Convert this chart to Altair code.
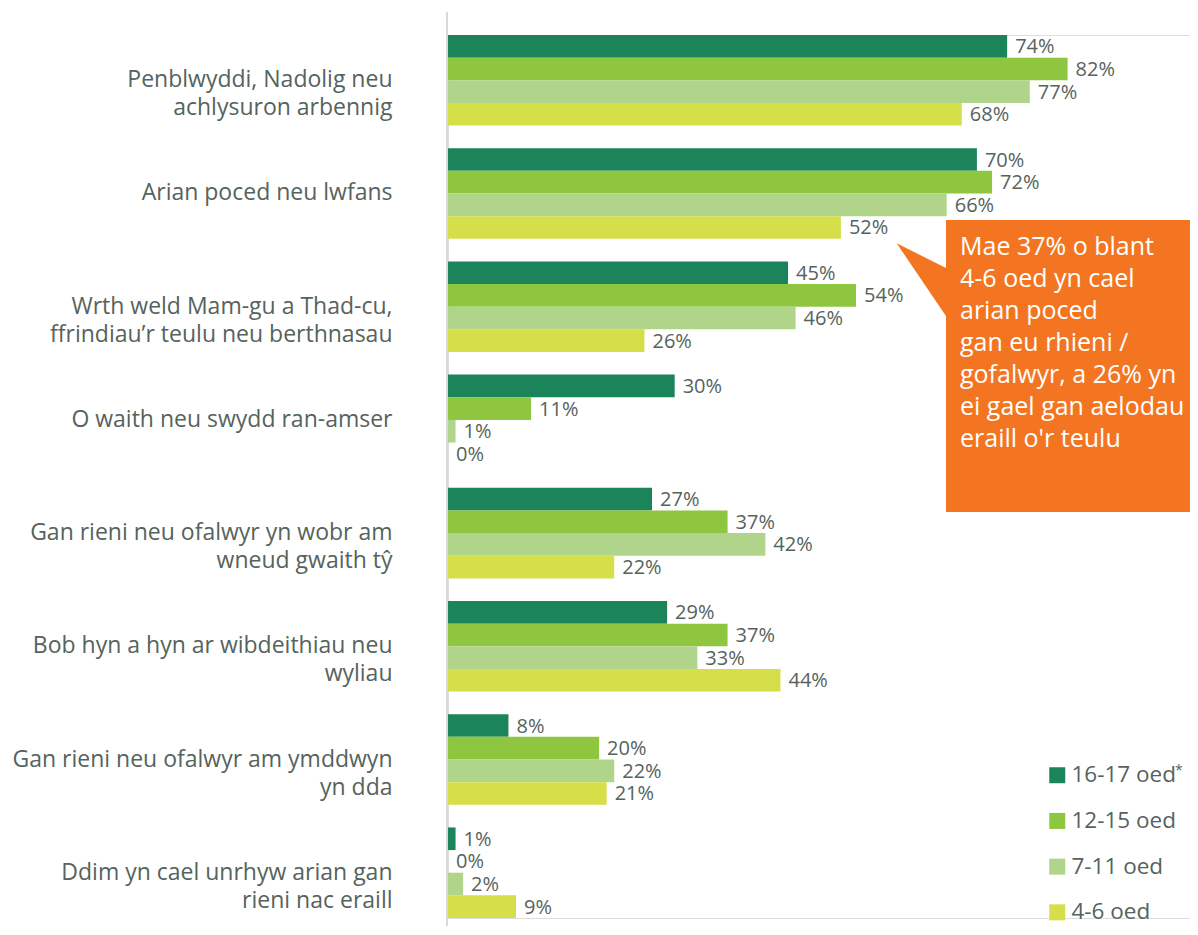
import altair as alt
import pandas as pd

categories = [
    "Penblwyddi, Nadolig neu|achlysuron arbennig",
    "Arian poced neu lwfans",
    "Wrth weld Mam-gu a Thad-cu,|ffrindiau’r teulu neu berthnasau",
    "O waith neu swydd ran-amser",
    "Gan rieni neu ofalwyr yn wobr am|wneud gwaith tŷ",
    "Bob hyn a hyn ar wibdeithiau neu|wyliau",
    "Gan rieni neu ofalwyr am ymddwyn|yn dda",
    "Ddim yn cael unrhyw arian gan|rieni nac eraill",
]
ages = ["16-17 oed*", "12-15 oed", "7-11 oed", "4-6 oed"]
age_colors = ["#1B845A", "#8FC640", "#B0D58A", "#D4DF4A"]

v_16_17 = [74, 70, 45, 30, 27, 29, 8, 1]
v_12_15 = [82, 72, 54, 11, 37, 37, 20, 0]
v_7_11 = [77, 66, 46, 1, 42, 33, 22, 2]
v_4_6 = [68, 52, 26, 0, 22, 44, 21, 9]

callout_lines = [
    "Mae 37% o blant",
    "4-6 oed yn cael",
    "arian poced",
    "gan eu rhieni /",
    "gofalwyr, a 26% yn",
    "ei gael gan aelodau",
    "eraill o'r teulu",
]

rows = []
for age, vals in zip(ages, [v_16_17, v_12_15, v_7_11, v_4_6]):
    for cat, v in zip(categories, vals):
        rows.append({"category": cat, "age": age, "value": v})
df = pd.DataFrame(rows)

FONT = "Open Sans"
GREY = "#56635D"

y_enc = alt.Y(
    "category:N",
    sort=categories,
    scale=alt.Scale(paddingInner=0.2, paddingOuter=0),
    axis=alt.Axis(
        title=None,
        domain=False,
        ticks=False,
        grid=False,
        labelFontSize=23,
        labelColor=GREY,
        labelFont=FONT,
        labelPadding=56,
        labelLimit=0,
        labelLineHeight=28,
        labelExpr="split(datum.label, '|')",
    ),
)
yoff = alt.YOffset("age:N", sort=ages, scale=alt.Scale(paddingInner=0, paddingOuter=0))
x_enc = alt.X("value:Q", scale=alt.Scale(domain=[0, 98.2], nice=False), axis=None)

base = alt.Chart(df)

bars = base.mark_bar(cornerRadius=0).encode(
    x=x_enc,
    y=y_enc,
    yOffset=yoff,
    color=alt.Color(
        "age:N",
        sort=ages,
        scale=alt.Scale(domain=ages, range=age_colors),
        legend=alt.Legend(
            title=None,
            orient="none",
            legendX=598,
            legendY=729,
            symbolType="square",
            symbolSize=256,
            symbolStrokeWidth=0,
            symbolOpacity=1,
            labelFontSize=22.5,
            labelFont=FONT,
            labelColor=GREY,
            labelOffset=3,
            rowPadding=22.7,
            padding=0,
            labelExpr="replace(datum.label, '*', '')",
        ),
    ),
)

labels = base.mark_text(
    align="left", baseline="middle", dx=8, dy=1, fontSize=20, font=FONT, color=GREY
).transform_calculate(lbl="format(datum.value, 'd') + '%'").encode(
    x=x_enc, y=y_enc, yOffset=yoff, text="lbl:N"
)

asterisk = alt.Chart(pd.DataFrame({"a": [0]})).mark_text(
    text="*", fontSize=14, font=FONT, color=GREY, align="left", baseline="middle"
).encode(x=alt.value(727), y=alt.value(736))

axis_line = alt.Chart(pd.DataFrame({"a": [0]})).mark_rule(
    color="#D9D9D9", strokeWidth=2
).encode(x=alt.value(-1), y=alt.value(-23), y2=alt.value(900))

callout_box = alt.Chart(pd.DataFrame({"a": [0]})).mark_rect(
    color="#F47521", opacity=1
).encode(x=alt.value(498), x2=alt.value(760), y=alt.value(185), y2=alt.value(477))

callout_tip = alt.Chart(pd.DataFrame({"a": [0]})).mark_point(
    shape="M-0.666,-0.984L0.666,-0.316L0.666,0.984Z",
    filled=True,
    size=6400,
    color="#F47521",
    opacity=1,
    strokeWidth=0,
).encode(x=alt.value(475.35), y=alt.value(247.65))

callout_text = alt.Chart(pd.DataFrame({"a": [0]})).mark_text(
    align="left",
    baseline="alphabetic",
    fontSize=25,
    font=FONT,
    color="white",
    lineHeight=32,
    text=callout_lines,
).encode(x=alt.value(512), y=alt.value(220))

chart = (
    alt.layer(axis_line, bars, labels, asterisk, callout_box, callout_tip, callout_text)
    .properties(
        width=742,
        height=883,
        autosize=alt.AutoSizeParams(type="none"),
        padding={"left": 440, "top": 27, "right": 0, "bottom": 8},
    )
    .configure_view(stroke="transparent", strokeWidth=0, strokeOpacity=0)
    .configure_axis(grid=False, domain=False)
    .configure(font=FONT)
)

chart.save("out.html", embed_options={"renderer": "svg", "actions": False})
